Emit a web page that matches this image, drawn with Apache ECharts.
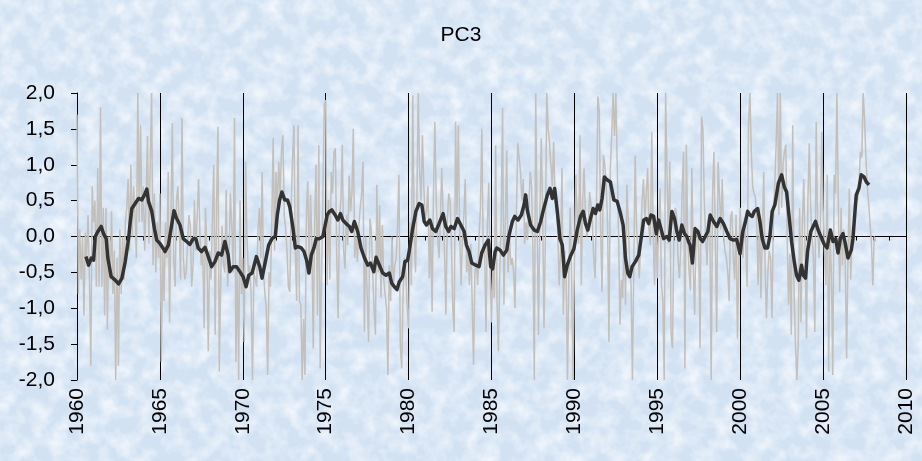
<!DOCTYPE html>
<html>
<head>
<meta charset="utf-8">
<script src="https://cdn.jsdelivr.net/npm/echarts@6/dist/echarts.min.js"></script>
<style>
html, body { margin:0; padding:0; width:922px; height:461px; overflow:hidden; }
body {
  background-color:#d2e2f3;
  background-image: url("data:image/svg+xml;utf8,<svg xmlns='http://www.w3.org/2000/svg' width='922' height='461'><filter id='n'><feTurbulence type='fractalNoise' baseFrequency='0.06' numOctaves='3' seed='7'/><feColorMatrix values='0 0 0 0 0.97  0 0 0 0 0.98  0 0 0 0 1  1.5 0 0 0 -0.55'/></filter><rect width='100%' height='100%' filter='url(%23n)'/></svg>");
}
#chart { width:922px; height:461px; }
</style>
</head>
<body>
<div id="chart"></div>
<script>
// ---- data ----
const chartTitle = 'PC3';
const monthlyStartYear = 1960;
// monthly PC3 values (grey line), Jan 1960 .. Mar 2008
const monthlyPC3 = [
  1.7, -0.8, 0.1, -0.6, 0.0, -1.1, 0.05, -0.3, 0.3, -0.6, -1.8, 0.7,        // 1960
  0.2, 0.5, -0.7, 0.95, -0.7, 1.8, -0.7, 0.4, -1.1, 0.4, -1.3, 0.0,         // 1961
  -0.6, 0.35, -0.8, -0.2, -2.0, -0.3, -1.8, 0.1, -0.8, 0.0, -0.6, 0.2,      // 1962
  0.4, 0.8, -0.2, 1.0, 0.0, 0.7, 0.3, -0.3, 2.0, 0.2, 1.55, 0.2,            // 1963
  0.7, -0.2, 0.5, 1.4, -0.1, 1.0, 2.0, -0.4, 0.6, -0.5, 0.2, -0.3,          // 1964
  0.6, -1.75, -0.2, -0.9, 0.2, -0.3, 0.9, -1.2, 0.3, 1.58, -0.3, -0.7,      // 1965
  0.5, 0.7, 0.1, -0.6, 1.65, -0.3, -0.6, -0.5, -0.5, 0.3, 0.15, -0.7,       // 1966
  -0.4, 0.5, -0.2, 0.3, 0.8, 0.0, -0.4, -0.2, -1.28, 0.4, -0.2, -1.6,       // 1967
  -0.2, -0.6, 0.25, 1.0, -1.37, 0.4, 1.53, -1.88, -0.6, 0.15, -0.4, -0.5,   // 1968
  0.65, -0.7, -0.3, 0.6, 0.15, -0.5, 1.65, -1.75, -0.4, -2.0, 0.5, -0.8,    // 1969
  -0.3, -1.47, 1.04, 0.0, -0.5, -0.4, -0.8, -2.0, -0.5, -0.5, -0.7, 0.1,    // 1970
  0.4, -0.3, 0.9, -0.5, -0.8, -1.0, -1.93, -0.5, -0.7, 0.2, 1.37, -0.2,     // 1971
  0.9, 0.4, 1.04, 0.58, 1.2, 1.41, 0.3, 0.1, -0.2, -0.7, -0.77, 0.4,        // 1972
  1.1, 1.55, -0.2, -0.9, 1.55, -0.9, -0.95, -2.0, -1.15, -1.93, 0.3, 0.77,  // 1973
  -0.4, 0.58, -0.1, -1.56, 0.2, 1.0, -1.1, 1.27, -1.84, -0.5, 0.6, 1.83,    // 1974
  1.9, -0.68, 0.51, -0.6, 0.9, 0.6, 1.18, 1.23, -0.3, -1.14, 0.3, 0.5,      // 1975
  1.28, -0.2, -0.45, 0.3, -0.12, 0.85, 0.35, 0.6, 1.5, -0.3, 0.0, -0.35,    // 1976
  0.15, 0.4, 0.6, 1.04, -1.33, 0.0, -0.8, -1.47, 0.25, 0.1, -0.5, -1.0,     // 1977
  -1.37, 0.72, -0.5, 0.44, -0.85, 0.16, -0.6, -0.8, -1.0, -1.93, -0.4, -0.9,// 1978
  0.0, -0.7, -0.4, -0.3, 0.16, 0.86, -1.5, -1.84, -0.8, -0.3, -0.5, -1.0,   // 1979
  -1.28, 0.2, -0.68, 1.97, 0.1, -0.5, 0.5, 2.0, 0.9, 0.5, 1.41, 0.7,        // 1980
  0.25, 0.35, 0.7, -0.58, 0.16, -1.05, 0.58, 1.6, 0.5, 0.0, -0.3, 0.25,     // 1981
  0.95, 0.3, -0.2, -1.09, 0.2, 0.6, 0.5, -0.1, -1.0, -1.33, 1.6, 0.3,       // 1982
  1.55, 0.0, -0.68, 0.0, 0.3, 0.8, -0.5, -0.2, -0.68, -0.1, -0.9, -1.79,    // 1983
  -0.5, -0.35, -0.68, 0.0, 0.4, 1.5, -0.2, -0.1, -1.33, 0.16, 0.75, -0.5,   // 1984
  -1.2, -0.3, -0.86, 1.27, -0.9, -1.6, -0.5, 0.2, 1.79, -0.95, 0.2, 1.2,    // 1985
  -0.5, 0.0, -0.4, -0.3, -0.5, -1.0, 0.3, 1.3, 1.1, 0.9, 0.5, 0.8,          // 1986
  -0.1, 0.2, -0.05, 0.4, 0.9, 0.7, -0.2, -2.0, 2.0, 0.25, -1.37, 0.3,       // 1987
  1.37, 0.35, -1.28, 0.0, 2.0, 1.5, 1.3, 1.0, 0.7, 1.32, 0.5, 0.4,          // 1988
  0.05, -0.68, -0.2, 0.95, -1.09, -0.2, -0.6, -2.0, -0.5, 0.4, -0.6, -2.0,  // 1989
  -0.4, 0.86, 0.3, -0.1, 1.41, -0.68, 0.5, 0.95, 0.3, 0.0, 0.1, 0.62,       // 1990
  0.45, 0.2, -0.3, -0.58, 0.5, 1.95, 1.74, 0.1, -0.77, 1.13, 1.0, 0.7,      // 1991
  0.2, -1.47, 0.95, 1.41, 2.0, 1.4, 2.0, 1.0, 0.0, -1.23, -0.6, -0.86,      // 1992
  0.1, -0.95, 0.72, 0.2, -0.4, -0.68, -2.0, -0.4, 1.13, 0.1, -0.2, -0.58,   // 1993
  -0.6, 0.5, 0.8, 0.25, 0.6, 0.95, 0.1, -0.12, 1.46, 0.07, -0.68, 0.25,     // 1994
  -0.58, 0.25, 0.67, -0.68, -0.9, -2.0, 2.0, 2.0, -0.1, 1.04, -1.37, -1.56, // 1995
  0.05, 0.4, 0.3, -0.3, -0.58, -0.15, 0.65, 1.18, -1.84, 1.28, 0.0, -0.5,   // 1996
  -0.75, 0.95, -0.4, -1.09, 0.0, 0.1, -0.2, -1.56, 1.67, 1.5, 0.5, 0.0,     // 1997
  -0.4, 0.25, 0.2, -2.0, 0.6, 1.18, -0.1, -1.33, 1.04, 0.6, 0.1, 0.8,       // 1998
  0.0, -0.2, -0.3, -0.5, -0.9, 0.25, 0.35, -0.3, -0.6, 0.3, -1.42, -0.4,    // 1999
  0.4, -0.1, -0.3, 0.25, -0.1, -0.7, 1.55, 2.0, 1.2, 0.7, 0.6, 0.55,        // 2000
  0.15, -0.68, 0.3, -0.86, 0.0, 0.9, -0.4, -1.14, -0.5, -0.2, -0.3, -1.14,  // 2001
  0.25, 0.7, 1.28, 2.0, 0.3, 2.0, 0.4, 1.0, 1.18, 1.28, 0.0, -0.95,         // 2002
  -0.25, -1.37, 1.55, -0.8, -1.5, -2.0, -1.5, 0.4, -1.2, 0.2, 0.8, -0.3,    // 2003
  -1.42, 0.5, 1.3, 0.4, 0.0, -0.3, -1.33, 1.6, 0.25, -0.3, 0.1, 1.46,       // 2004
  0.4, -0.2, -0.68, 0.86, -1.88, 0.0, -0.5, -1.93, 0.86, 0.6, 2.0, 0.5,     // 2005
  -0.77, 0.4, -0.4, 0.1, -0.3, -1.7, -0.3, 0.67, -0.6, 0.0, -0.1, 0.35,     // 2006
  0.6, 0.5, 0.72, 1.18, 1.1, 2.0, 1.65, 1.1, 0.7, 0.45, 0.16, -0.1,         // 2007
  -0.68, 0.0, -0.07                                                         // 2008
];
// smoothed PC3 (dark line): [decimal year, value]
const smoothPC3 = [
  [1960.54,-0.28],[1960.70,-0.40],[1960.86,-0.30],[1961.00,-0.33],[1961.10,0.00],[1961.26,0.07],[1961.46,0.14],[1961.60,0.04],[1961.76,-0.03],[1961.86,-0.30],[1962.06,-0.56],[1962.27,-0.60],[1962.51,-0.66],[1962.71,-0.58],[1962.91,-0.35],[1963.11,-0.03],[1963.21,0.20],[1963.31,0.39],[1963.51,0.46],[1963.71,0.53],[1963.91,0.51],[1964.07,0.58],[1964.21,0.66],[1964.31,0.49],[1964.51,0.35],[1964.67,0.11],[1964.81,-0.05],[1965.01,-0.10],[1965.21,-0.17],
  [1965.31,-0.21],[1965.51,-0.12],[1965.71,0.16],[1965.85,0.36],[1966.01,0.25],[1966.21,0.16],[1966.41,-0.03],[1966.61,-0.07],[1966.81,-0.11],[1967.01,-0.03],[1967.17,-0.03],[1967.31,-0.16],[1967.51,-0.21],[1967.72,-0.15],[1967.92,-0.28],[1968.12,-0.42],[1968.32,-0.35],[1968.52,-0.23],[1968.72,-0.26],[1968.92,-0.07],[1969.12,-0.26],[1969.22,-0.49],[1969.42,-0.42],[1969.62,-0.42],[1969.82,-0.49],
  [1970.02,-0.56],[1970.20,-0.70],[1970.36,-0.54],[1970.56,-0.51],[1970.82,-0.28],[1971.02,-0.42],[1971.16,-0.58],[1971.36,-0.35],[1971.56,-0.12],[1971.76,-0.03],[1971.96,0.00],[1972.08,0.30],[1972.22,0.51],[1972.36,0.62],[1972.53,0.51],[1972.69,0.51],[1972.83,0.42],[1973.03,0.11],[1973.17,-0.16],[1973.33,-0.14],[1973.53,-0.16],[1973.69,-0.21],[1973.85,-0.33],[1973.99,-0.51],[1974.13,-0.26],[1974.29,-0.16],[1974.43,-0.03],[1974.63,-0.03],[1974.83,0.00],[1974.97,0.16],[1975.09,0.30],[1975.23,0.35],[1975.37,0.37],
  [1975.57,0.30],[1975.73,0.23],[1975.89,0.32],[1976.03,0.23],[1976.23,0.18],[1976.43,0.14],[1976.57,0.07],[1976.73,0.21],[1976.93,0.07],[1977.13,-0.16],[1977.34,-0.30],[1977.54,-0.40],[1977.70,-0.37],[1977.90,-0.49],[1978.04,-0.29],[1978.24,-0.40],[1978.44,-0.51],[1978.64,-0.54],[1978.84,-0.51],[1978.98,-0.65],[1979.14,-0.70],[1979.30,-0.74],[1979.44,-0.63],[1979.64,-0.56],[1979.78,-0.35],[1979.94,-0.33],[1980.04,-0.20],[1980.24,0.10],[1980.44,0.35],
  [1980.64,0.46],[1980.80,0.44],[1980.94,0.21],[1981.08,0.16],[1981.28,0.23],[1981.44,0.11],[1981.64,0.07],[1981.84,0.18],[1982.08,0.32],[1982.24,0.14],[1982.41,0.07],[1982.55,0.14],[1982.75,0.11],[1982.95,0.25],[1983.15,0.16],[1983.35,0.07],[1983.49,-0.12],[1983.65,-0.21],[1983.81,-0.37],[1984.05,-0.40],[1984.25,-0.42],[1984.41,-0.23],[1984.61,-0.12],[1984.81,-0.05],[1984.95,-0.42],[1985.07,-0.45],[1985.22,-0.21],
  [1985.32,-0.16],[1985.52,-0.19],[1985.72,-0.26],[1985.92,-0.19],[1986.06,0.02],[1986.26,0.21],[1986.40,0.28],[1986.60,0.23],[1986.80,0.30],[1986.96,0.44],[1987.06,0.58],[1987.16,0.37],[1987.36,0.16],[1987.57,0.09],[1987.77,0.07],[1987.97,0.21],[1988.13,0.37],[1988.27,0.49],[1988.37,0.58],[1988.53,0.67],[1988.67,0.53],[1988.81,0.67],[1988.97,0.35],[1989.13,-0.03],[1989.27,-0.12],[1989.41,-0.56],[1989.57,-0.40],[1989.77,-0.27],[1989.97,-0.17],[1990.17,0.09],[1990.37,0.28],
  [1990.53,0.35],[1990.67,0.18],[1990.81,0.09],[1990.97,0.25],[1991.13,0.39],[1991.27,0.32],[1991.41,0.44],[1991.53,0.37],[1991.67,0.53],[1991.81,0.83],[1991.97,0.79],[1992.17,0.76],[1992.38,0.51],[1992.58,0.49],[1992.78,0.32],[1992.94,0.16],[1993.08,-0.30],[1993.22,-0.51],[1993.34,-0.56],[1993.48,-0.42],[1993.68,-0.35],[1993.88,-0.26],[1994.02,-0.03],[1994.18,0.23],[1994.34,0.25],[1994.48,0.18],[1994.62,0.30],[1994.78,0.28],[1994.94,0.04],[1995.08,0.23],
  [1995.18,0.25],[1995.38,-0.03],[1995.58,0.00],[1995.72,-0.05],[1995.88,0.35],[1996.04,0.25],[1996.18,0.07],[1996.32,-0.05],[1996.48,0.16],[1996.64,0.04],[1996.78,0.00],[1996.88,-0.07],[1996.98,-0.12],[1997.12,-0.37],[1997.28,0.11],[1997.45,0.07],[1997.59,-0.03],[1997.73,-0.07],[1997.89,0.00],[1998.05,0.07],[1998.19,0.30],[1998.39,0.21],[1998.59,0.14],[1998.79,0.25],[1998.99,0.18],[1999.19,0.07],[1999.39,-0.03],[1999.59,-0.05],[1999.79,-0.04],[1999.99,-0.24],[2000.16,0.07],[2000.33,0.22],
  [2000.45,0.35],[2000.59,0.30],[2000.73,0.28],[2000.85,0.35],[2001.05,0.39],[2001.19,0.21],[2001.33,-0.03],[2001.49,-0.16],[2001.65,-0.16],[2001.79,0.00],[2001.93,0.35],[2002.09,0.44],[2002.19,0.46],[2002.30,0.74],[2002.50,0.86],[2002.66,0.69],[2002.80,0.62],[2002.94,0.30],[2003.10,-0.07],[2003.26,-0.35],[2003.40,-0.54],[2003.54,-0.61],[2003.70,-0.40],[2003.80,-0.54],[2003.94,-0.58],[2004.06,-0.21],[2004.26,0.07],[2004.40,0.14],[2004.54,0.21],[2004.70,0.09],[2004.90,-0.02],[2005.05,-0.10],
  [2005.24,-0.16],[2005.44,0.09],[2005.60,-0.07],[2005.76,-0.03],[2005.90,-0.23],[2006.04,-0.03],[2006.20,0.04],[2006.34,-0.10],[2006.50,-0.30],[2006.70,-0.19],[2006.80,-0.03],[2006.90,0.28],[2007.00,0.58],[2007.16,0.67],[2007.30,0.86],[2007.47,0.83],[2007.61,0.76],[2007.77,0.72]
];
const xMin = 1960, xMax = 2010, xStep = 5;
const yMin = -2, yMax = 2, yStep = 0.5;

// ---- chart ----
const monthlySeries = monthlyPC3.map((v, i) => [monthlyStartYear + i / 12, v]);
const FONT = 'Liberation Sans, Arial, sans-serif';
const chart = echarts.init(document.getElementById('chart'), null, { renderer: 'canvas' });
chart.setOption({
  animation: false,
  backgroundColor: 'transparent',
  title: {
    text: chartTitle, left: 'center', top: 20,
    textStyle: { fontFamily: FONT, fontSize: 21, fontWeight: 'normal', color: '#000' }
  },
  grid: { left: 77, right: 16, top: 93, bottom: 81, containLabel: false },
  xAxis: [
    { // zero line with yearly ticks
      type: 'value', min: xMin, max: xMax, interval: 1,
      axisLine: { onZero: true, lineStyle: { color: '#000', width: 1 } },
      axisTick: { show: true, length: 4, lineStyle: { color: '#000' } },
      axisLabel: { show: false },
      splitLine: { show: false }
    },
    { // bottom labels + vertical grid lines
      type: 'value', min: xMin, max: xMax, interval: xStep, position: 'bottom',
      axisLine: { show: false, onZero: false },
      axisTick: { show: false },
      axisLabel: { rotate: 90, margin: 8, fontFamily: FONT, fontSize: 21, color: '#000',
                   formatter: v => String(v) },
      splitLine: { show: true, lineStyle: { color: '#000', width: 1 } }
    }
  ],
  yAxis: {
    type: 'value', min: yMin, max: yMax, interval: yStep,
    axisLine: { show: true, lineStyle: { color: '#000', width: 1 } },
    axisTick: { show: true, length: 6, lineStyle: { color: '#000' } },
    axisLabel: { margin: 22, fontFamily: FONT, fontSize: 21, color: '#000',
                 formatter: v => v.toFixed(1).replace('.', ',') },
    splitLine: { show: false }
  },
  series: [
    { type: 'line', xAxisIndex: 0, data: monthlySeries, showSymbol: false, symbol: 'none',
      lineStyle: { color: '#c3bfbb', width: 1.5 }, z: 2, silent: true },
    { type: 'line', xAxisIndex: 0, data: smoothPC3, showSymbol: false, symbol: 'none',
      lineStyle: { color: '#333333', width: 3.5, join: 'round' }, z: 3, silent: true }
  ]
});
</script>
</body>
</html>
